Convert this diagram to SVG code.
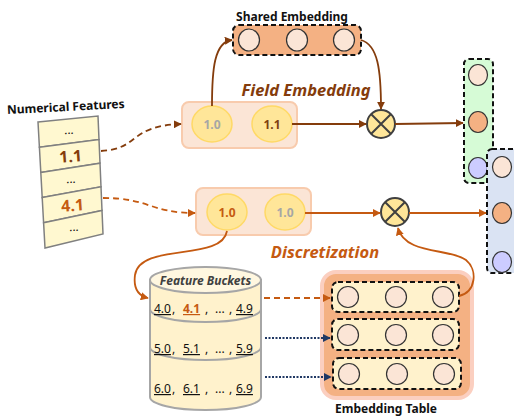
<svg xmlns="http://www.w3.org/2000/svg" width="514" height="420" viewBox="0 0 514 420">
<defs>
<marker id="ab" viewBox="0 0 10 10" refX="9" refY="5" markerWidth="8" markerHeight="8" markerUnits="userSpaceOnUse" orient="auto"><path d="M0,0 L10,5 L0,10 z" fill="#843c0c"/></marker>
<marker id="ao" viewBox="0 0 10 10" refX="9" refY="5" markerWidth="8" markerHeight="8" markerUnits="userSpaceOnUse" orient="auto"><path d="M0,0 L10,5 L0,10 z" fill="#c55a11"/></marker>
<marker id="an" viewBox="0 0 10 10" refX="9" refY="5" markerWidth="8" markerHeight="8" markerUnits="userSpaceOnUse" orient="auto"><path d="M0,0 L10,5 L0,10 z" fill="#203864"/></marker>
</defs>
<style>
text{font-family:"Noto Sans","Open Sans","Liberation Sans",sans-serif}
.lbl{font-weight:bold;font-size:12px;fill:#111}
.cap{font-weight:bold;font-style:italic;font-size:16.5px}
.emb{fill:#fbe5d6;stroke:#333;stroke-width:1.2}
.dash{stroke:#111;stroke-width:2;stroke-dasharray:5,3}
.pill{fill:#fbe5d6;stroke:#f8cbad;stroke-width:2}
.yc{fill:#ffe699;stroke:#ffd966;stroke-width:1.5}
.row{fill:#fff8d0;stroke:#808080;stroke-width:1.5}
.mul{fill:#ffe699;stroke:#404040;stroke-width:2}
.bk{font-size:12px;fill:#111}
.u{text-decoration:underline}
.br{stroke:#843c0c;stroke-width:1.8;fill:none}
.or{stroke:#c55a11;stroke-width:1.8;fill:none}
.nv{stroke:#203864;stroke-width:2;fill:none;stroke-dasharray:2,1.5}
</style>

<g id="numerical-features">
<text class="lbl" x="66" y="111" text-anchor="middle" font-size="12.5" transform="rotate(-3 66 111)">Numerical Features</text>
<polygon class="row" points="38,122 98,116 99,139.6 39.4,147.2"/>
<polygon class="row" points="39.4,147.2 99,139.6 100,163.2 40.8,172.4"/>
<polygon class="row" points="40.8,172.4 100,163.2 101,186.8 42.2,197.6"/>
<polygon class="row" points="42.2,197.6 101,186.8 102,210.4 43.6,222.8"/>
<polygon class="row" points="43.6,222.8 102,210.4 103,234 45,248"/>
<text x="69" y="134" font-size="12" text-anchor="middle" fill="#111" transform="rotate(-4 69 134)">...</text>
<text x="71" y="162" font-size="16" font-weight="bold" text-anchor="middle" fill="#843c0c" transform="rotate(-4 71 162)">1.1</text>
<text x="71" y="183" font-size="12" text-anchor="middle" fill="#111" transform="rotate(-4 71 183)">...</text>
<text x="73" y="211" font-size="16" font-weight="bold" text-anchor="middle" fill="#c55a11" transform="rotate(-4 73 211)">4.1</text>
<text x="74" y="231" font-size="12" text-anchor="middle" fill="#111" transform="rotate(-4 74 231)">...</text>
</g>

<g id="shared-embedding">
<text class="lbl" x="292" y="21" text-anchor="middle">Shared Embedding</text>
<rect x="233" y="25" width="128" height="30" rx="6" fill="#f4b183" class="dash"/>
<ellipse class="emb" cx="249" cy="40" rx="10.5" ry="11"/>
<ellipse class="emb" cx="297" cy="40" rx="10.5" ry="11"/>
<ellipse class="emb" cx="344" cy="40" rx="10.5" ry="11"/>
</g>

<g id="field-embedding">
<text class="cap" x="306" y="96" text-anchor="middle" fill="#843c0c">Field Embedding</text>
<rect class="pill" x="182" y="102" width="115" height="46" rx="7"/>
<ellipse class="yc" cx="212" cy="124" rx="20" ry="18"/>
<ellipse class="yc" cx="272" cy="124" rx="20" ry="18"/>
<text x="212" y="128.5" font-size="12" font-weight="bold" text-anchor="middle" fill="#a6a6a6">1.0</text>
<text x="272" y="128.5" font-size="12" font-weight="bold" text-anchor="middle" fill="#7f3f10">1.1</text>
</g>

<g id="discretization">
<rect class="pill" x="196" y="188" width="115" height="47" rx="7"/>
<ellipse class="yc" cx="227" cy="212" rx="20" ry="18"/>
<ellipse class="yc" cx="285" cy="212" rx="20" ry="18"/>
<text x="227" y="216.5" font-size="12" font-weight="bold" text-anchor="middle" fill="#c55a11">1.0</text>
<text x="285" y="216.5" font-size="12" font-weight="bold" text-anchor="middle" fill="#a6a6a6">1.0</text>
<text class="cap" x="325" y="258" text-anchor="middle" fill="#c55a11">Discretization</text>
</g>

<g id="multiply-1">
<circle class="mul" cx="381" cy="124" r="14"/>
<path d="M371,114 L391,134 M391,114 L371,134" stroke="#404040" stroke-width="2"/>
</g>
<g id="multiply-2">
<circle class="mul" cx="395" cy="212" r="14"/>
<path d="M385,202 L405,222 M405,202 L385,222" stroke="#404040" stroke-width="2"/>
</g>

<g id="output-green">
<rect x="464" y="59" width="29" height="124" rx="5" fill="#d6fbd6" class="dash"/>
<ellipse cx="478" cy="75" rx="9.5" ry="10.5" fill="#fbe5d6" stroke="#333" stroke-width="1.2"/>
<ellipse cx="478" cy="122" rx="9.5" ry="10.5" fill="#f4b183" stroke="#333" stroke-width="1.2"/>
<ellipse cx="478" cy="168" rx="9.5" ry="10.5" fill="#ccccff" stroke="#333" stroke-width="1.2"/>
</g>
<g id="output-blue">
<rect x="487" y="149" width="31" height="124" rx="5" fill="#dae3f3" class="dash"/>
<ellipse cx="502" cy="167" rx="9.5" ry="10.5" fill="#fbe5d6" stroke="#333" stroke-width="1.2"/>
<ellipse cx="502" cy="213" rx="9.5" ry="10.5" fill="#f4b183" stroke="#333" stroke-width="1.2"/>
<ellipse cx="502" cy="262" rx="9.5" ry="10.5" fill="#ccccff" stroke="#333" stroke-width="1.2"/>
</g>

<g id="feature-buckets">
<path d="M150,280 L150,397 A55.5,13 0 0 0 261,397 L261,280 Z" fill="#fff2cc" stroke="#a6a6a6" stroke-width="2"/>
<path d="M150,309 A55.5,13 0 0 0 261,309 M150,347 A55.5,13 0 0 0 261,347" fill="none" stroke="#a6a6a6" stroke-width="2"/>
<ellipse cx="205.5" cy="280" rx="55.5" ry="13" fill="#fff7e0" stroke="#a6a6a6" stroke-width="2"/>
<text x="205.5" y="285" font-size="12" font-weight="bold" font-style="italic" text-anchor="middle" fill="#404040">Feature Buckets</text>
<text class="bk u" x="154" y="313">4.0</text><text class="bk" x="172" y="313">,</text>
<text class="bk u" x="183" y="313" font-weight="bold" style="fill:#c55a11">4.1</text><text class="bk" x="205" y="313">,</text>
<text class="bk" x="215" y="313">...</text><text class="bk" x="229" y="313">,</text>
<text class="bk u" x="236" y="313">4.9</text>
<text class="bk u" x="154" y="353">5.0</text><text class="bk" x="172" y="353">,</text>
<text class="bk u" x="183" y="353">5.1</text><text class="bk" x="205" y="353">,</text>
<text class="bk" x="215" y="353">...</text><text class="bk" x="229" y="353">,</text>
<text class="bk u" x="236" y="353">5.9</text>
<text class="bk u" x="154" y="393">6.0</text><text class="bk" x="172" y="393">,</text>
<text class="bk u" x="183" y="393">6.1</text><text class="bk" x="205" y="393">,</text>
<text class="bk" x="215" y="393">...</text><text class="bk" x="229" y="393">,</text>
<text class="bk u" x="236" y="393">6.9</text>
</g>

<g id="embedding-table">
<rect x="322" y="272" width="150" height="126" rx="14" fill="#f4b183" stroke="#fbcfc0" stroke-width="4"/>
<rect x="332" y="282" width="127" height="30" rx="6" fill="#fff2cc" class="dash"/>
<rect x="332" y="319" width="127" height="31" rx="6" fill="#fff2cc" class="dash"/>
<rect x="333" y="358" width="128" height="31" rx="6" fill="#fff2cc" class="dash"/>
<circle class="emb" cx="348" cy="297" r="10.5"/><circle class="emb" cx="396" cy="297" r="10.5"/><circle class="emb" cx="443" cy="297" r="10.5"/>
<circle class="emb" cx="348" cy="335" r="10.5"/><circle class="emb" cx="396" cy="335" r="10.5"/><circle class="emb" cx="443" cy="335" r="10.5"/>
<circle class="emb" cx="349" cy="374" r="10.5"/><circle class="emb" cx="397" cy="374" r="10.5"/><circle class="emb" cx="444" cy="374" r="10.5"/>
<text class="lbl" x="386" y="413" text-anchor="middle" font-size="13">Embedding Table</text>
</g>

<g id="connectors">
<path class="br" d="M212,106 C212,70 214,42 232,40" marker-end="url(#ab)"/>
<path class="br" d="M361,40 C378,45 381,70 381,109" marker-end="url(#ab)"/>
<path class="br" d="M292,124 L366,124" marker-end="url(#ab)"/>
<path class="br" d="M395,124 L463,123" marker-end="url(#ab)"/>
<path class="br" d="M101,151 C140,149 128,126 181,124" stroke-dasharray="6,4" marker-end="url(#ab)"/>
<path class="or" d="M103,198 C150,198 150,213 195,213" stroke-dasharray="6,4" marker-end="url(#ao)"/>
<path class="or" d="M305,213 L380,213" marker-end="url(#ao)"/>
<path class="or" d="M409,213 L486,213" marker-end="url(#ao)"/>
<path class="or" d="M459,296 C476,292 478,270 466,260 C450,248 405,255 398,228" marker-end="url(#ao)"/>
<path class="or" d="M227,231 C222,262 140,242 135,275 C133,290 140,296 148,298" marker-end="url(#ao)"/>
<path class="or" d="M264,298 L330,298" stroke-dasharray="6,4" marker-end="url(#ao)"/>
<path class="nv" d="M265,338 L330,338" marker-end="url(#an)"/>
<path class="nv" d="M265,377 L331,377" marker-end="url(#an)"/>
</g>
</svg>
